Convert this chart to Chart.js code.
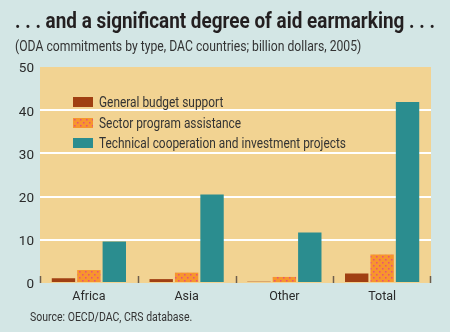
<!DOCTYPE html>
<html>
<head>
<meta charset="utf-8">
<script src="https://cdn.jsdelivr.net/npm/chart.js@4.4.0/dist/chart.umd.min.js"></script>
<style>
  html, body { margin: 0; padding: 0; }
  body { width: 450px; height: 332px; background: #d3e6e5; position: relative; overflow: hidden;
         font-family: Roboto, "Liberation Sans", sans-serif; color: #2a2a2a; }
  #wrap { position: absolute; left: 0; top: 0; width: 450px; height: 332px; }
  /* texto estreito: Roboto comprimido na horizontal */
  .narrow { display: inline-block; transform-origin: 0 0; white-space: nowrap; }
  .title { position: absolute; left: 15px; top: 8px; font-size: 21.5px; font-weight: bold; color: #231f20; transform: scaleX(0.88); }
  .subtitle { position: absolute; left: 15px; top: 38px; font-size: 14px; color: #333; transform: scaleX(0.87); }
  .source { position: absolute; left: 30px; top: 309px; font-size: 12.5px; color: #333; transform: scaleX(0.84); }
  #legend { position: absolute; left: 73px; top: 92px; font-size: 14px; color: #333; }
  #legend .row { display: flex; align-items: center; height: 20.5px; }
  #legend .box { width: 20px; height: 10px; margin-right: 6px; flex: none; }
  #legend .label { transform: scaleX(0.85); }
</style>
</head>
<body>
<div id="wrap"><canvas id="chart" width="450" height="332"></canvas></div>
<div class="title narrow">. . . and a significant degree of aid earmarking . . .</div>
<div class="subtitle narrow">(ODA commitments by type, DAC countries; billion dollars, 2005)</div>
<div id="legend"></div>
<div class="source narrow">Source: OECD/DAC, CRS database.</div>

<script>
// --- Dados ---
const regions = ['Africa', 'Asia', 'Other', 'Total'];
const seriesNames = ['General budget support', 'Sector program assistance', 'Technical cooperation and investment projects'];
const budgetSupport = [1.1, 0.9, 0.3, 2.2];
const sectorProgram = [3.0, 2.4, 1.4, 6.6];
const techCoop = [9.6, 20.5, 11.7, 41.9];
const yTicks = [0, 10, 20, 30, 40, 50];

// --- Cores ---
const BG_PLOT = '#f2d392';
const BROWN = '#a03f12';
const ORANGE = '#f7952d';
const DOT = '#e8507a';
const TEAL = '#2b8d8f';

// padrão pontilhado das barras laranja
const makeDots = () => {
  const c = document.createElement('canvas');
  c.width = 6; c.height = 6;
  const g = c.getContext('2d');
  g.fillStyle = ORANGE;
  g.fillRect(0, 0, 6, 6);
  g.fillStyle = DOT;
  g.fillRect(1, 1, 1.5, 1.5);
  g.fillRect(4, 4, 1.5, 1.5);
  return c;
};
const dotCanvas = makeDots();
const ctx = document.getElementById('chart').getContext('2d');
const dotPattern = ctx.createPattern(dotCanvas, 'repeat');

// --- Legenda ---
const legendFills = [BROWN, `url(${dotCanvas.toDataURL()})`, TEAL];
const legend = document.getElementById('legend');
seriesNames.forEach((name, i) => {
  const row = document.createElement('div');
  row.className = 'row';
  const box = document.createElement('span');
  box.className = 'box';
  box.style.background = legendFills[i];
  const label = document.createElement('span');
  label.className = 'label narrow';
  label.textContent = name;
  row.appendChild(box);
  row.appendChild(label);
  legend.appendChild(row);
});

// fundo da área do gráfico + marcas entre categorias
const plotDecor = {
  id: 'plotDecor',
  beforeDraw(chart) {
    const { ctx, chartArea: a } = chart;
    ctx.save();
    ctx.fillStyle = BG_PLOT;
    ctx.fillRect(a.left, a.top, a.right - a.left, a.bottom - a.top);
    ctx.restore();
  },
  afterDatasetsDraw(chart) {
    const { ctx, chartArea: a, scales: { x } } = chart;
    const step = (x.right - x.left) / regions.length;
    ctx.save();
    ctx.strokeStyle = '#6e5e4c';
    ctx.lineWidth = 1.5;
    for (let i = 0; i <= regions.length; i++) {
      const px = Math.round(x.left + i * step) - (i === regions.length ? 1 : 0) + 0.5;
      ctx.beginPath();
      ctx.moveTo(px, a.bottom);
      ctx.lineTo(px, a.bottom - 7);
      ctx.stroke();
    }
    ctx.restore();
  }
};

const font = { family: 'Roboto, "Liberation Sans", sans-serif', size: 13.5 };

new Chart(ctx, {
  type: 'bar',
  data: {
    labels: regions,
    datasets: [
      { label: seriesNames[0], data: budgetSupport, backgroundColor: BROWN },
      { label: seriesNames[1], data: sectorProgram, backgroundColor: dotPattern },
      { label: seriesNames[2], data: techCoop, backgroundColor: TEAL }
    ]
  },
  options: {
    responsive: false,
    animation: false,
    categoryPercentage: 0.78,
    barPercentage: 0.92,
    layout: { padding: { top: 67, right: 19, bottom: 0, left: 0 } },
    plugins: { legend: { display: false }, tooltip: { enabled: false } },
    scales: {
      x: {
        afterFit: s => { s.height = 49; },
        grid: { display: false, drawTicks: false },
        border: { display: false },
        ticks: { color: '#2a2a2a', font: { ...font, size: 12.5 }, padding: 6 }
      },
      y: {
        min: 0,
        max: 50,
        afterFit: s => { s.width = 40; },
        afterBuildTicks: s => { s.ticks = yTicks.map(v => ({ value: v })); },
        border: { display: false },
        grid: {
          drawTicks: false,
          lineWidth: 2,
          color: c => (c.tick.value === 0 || c.tick.value === 50) ? 'rgba(0,0,0,0)' : '#ffffff'
        },
        ticks: { color: '#2a2a2a', font, padding: 6, labelOffset: 2 }
      }
    }
  },
  plugins: [plotDecor]
});
</script>
</body>
</html>
